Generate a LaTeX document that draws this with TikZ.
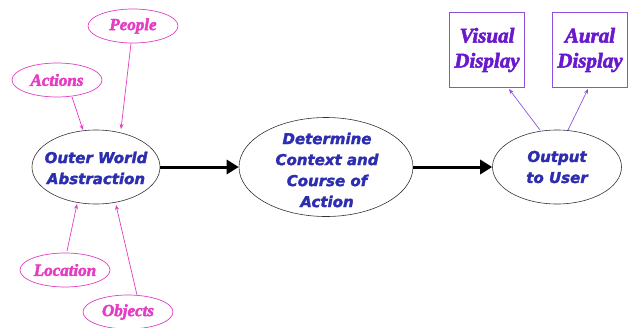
\documentclass[tikz,border=0pt]{standalone}
\usepackage{fontspec}
\newfontfamily\serifbi{Liberation Serif Bold Italic}[FakeBold=2.5]
\newfontfamily\sansbi{DejaVu Sans Bold Oblique}[FakeBold=2]
\usetikzlibrary{arrows.meta,shapes.geometric}
\definecolor{pinkc}{RGB}{228,60,195}
\definecolor{bluec}{RGB}{45,45,175}
\definecolor{purpc}{RGB}{105,25,205}
\definecolor{purpl}{RGB}{145,80,220}
\tikzset{
  small/.style={ellipse,draw=pinkc,line width=0.7pt,inner sep=0pt,minimum width=90pt,minimum height=34pt,
    font=\serifbi\fontsize{17}{17}\selectfont,text=pinkc},
  mainel/.style={ellipse,draw=black!80,line width=0.6pt,inner sep=0pt},
  maintext/.style={align=center,inner sep=0pt,font=\sansbi\fontsize{15}{21}\selectfont,text=bluec},
  disp/.style={rectangle,draw=purpl,line width=0.9pt,inner sep=0pt,minimum width=75pt,minimum height=75pt,align=center,
    font=\serifbi\fontsize{21}{25}\selectfont,text=purpc},
  pinkarr/.style={draw=pinkc,line width=0.7pt,-{Stealth[length=5pt,width=4pt]}},
  purparr/.style={draw=purpl,line width=0.7pt,-{Stealth[length=5pt,width=4pt]}},
  bigarr/.style={draw=black,line width=3pt,-{Triangle[length=12pt,width=14pt]}},
}
\begin{document}
\begin{tikzpicture}[x=1pt,y=-1pt]
\useasboundingbox (0,0) rectangle (631,327);
\node[mainel,minimum width=128pt,minimum height=74pt] (outer) at (96,167) {};
\node[maintext] (outert) at (96,168) {Outer World\\Abstraction};
\node[mainel,minimum width=174pt,minimum height=99pt] (det) at (326,167) {};
\node[maintext] (dett) at (327,170) {Determine\\Context and\\Course of\\Action};
\node[mainel,minimum width=129pt,minimum height=74pt] (out) at (557,167) {};
\node[maintext] (outt) at (557,167) {Output\\to User};
\node[small] (people) at (133,26) {People};
\node[small] (actions) at (57,80) {Actions};
\node[small] (location) at (65,270) {Location};
\node[small] (objects) at (128,312) {Objects};
\node[disp] (visual) at (487,50) {Visual\\Display};
\node[disp] (aural) at (590,50) {Aural\\Display};
\coordinate (pe) at (121,129);
\coordinate (ae) at (83,130);
\coordinate (le) at (77,204);
\coordinate (oe) at (116,205);
\draw[pinkarr] (people.south) ++(-2,0) -- (pe);
\draw[pinkarr] (actions) ++(15,17) -- (ae);
\draw[pinkarr] (location) ++(2,-19) -- (le);
\draw[pinkarr] (objects) ++(9,-17) -- (oe);
\coordinate (o1) at (540,130);
\coordinate (o2) at (568,130);
\draw[purparr] (o1) -- (509,89);
\draw[purparr] (o2) -- (588,89);
\draw[bigarr] (outer.east) -- (det.west);
\draw[bigarr] (det.east) -- (out.west);
\end{tikzpicture}
\end{document}
